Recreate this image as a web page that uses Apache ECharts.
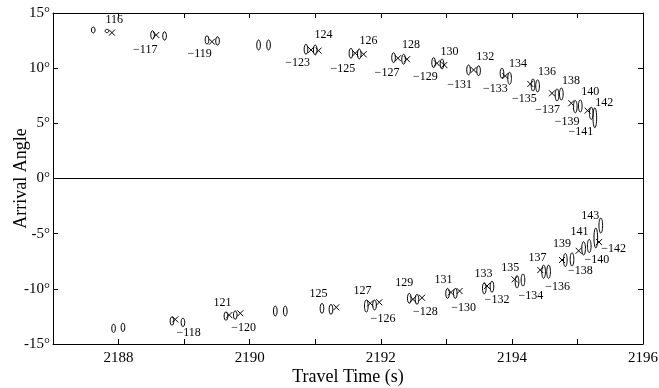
<!DOCTYPE html>
<html>
<head>
<meta charset="utf-8">
<script src="https://cdn.jsdelivr.net/npm/echarts@6/dist/echarts.min.js"></script>
<style>
    html, body { margin: 0; padding: 0; background: #fff; }
    #chart { width: 659px; height: 388px; }
</style>
</head>
<body>
<div id="chart"></div>
<script>
// travel time (s), arrival angle (deg), half height of the ellipse (deg)
var ellipsesTop = [
    [2187.614, 13.46, 0.27], [2187.823, 13.37, 0.15],
    [2188.519, 13.01, 0.38], [2188.702, 12.92, 0.38],
    [2189.349, 12.56, 0.38], [2189.510, 12.47, 0.38],
    [2190.136, 12.10, 0.45], [2190.288, 12.10, 0.45],
    [2190.859, 11.71, 0.45], [2191.000, 11.65, 0.45],
    [2191.545, 11.35, 0.45], [2191.672, 11.29, 0.45],
    [2192.195, 10.95, 0.45], [2192.348, 10.81, 0.45],
    [2192.806, 10.50, 0.45], [2192.934, 10.38, 0.45],
    [2193.339, 9.84, 0.45], [2193.492, 9.77, 0.45],
    [2193.849, 9.54, 0.45], [2193.965, 9.08, 0.55],
    [2194.322, 8.48, 0.55], [2194.392, 8.39, 0.55],
    [2194.688, 7.57, 0.55], [2194.754, 7.66, 0.55],
    [2194.967, 6.51, 0.55], [2195.043, 6.57, 0.55],
    [2195.211, 5.91, 0.55], [2195.265, 5.50, 0.9]
];

var ellipsesBottom = [
    [2187.924, -13.58, 0.38], [2188.067, -13.49, 0.38],
    [2188.815, -12.92, 0.38], [2188.982, -13.04, 0.38],
    [2189.638, -12.47, 0.38], [2189.780, -12.38, 0.38],
    [2190.391, -12.01, 0.45], [2190.543, -12.01, 0.45],
    [2191.103, -11.77, 0.45], [2191.240, -11.86, 0.45],
    [2191.779, -11.56, 0.55], [2191.905, -11.47, 0.45],
    [2192.435, -10.86, 0.45], [2192.552, -10.95, 0.45],
    [2193.019, -10.41, 0.45], [2193.137, -10.41, 0.45],
    [2193.579, -9.95, 0.5], [2193.696, -9.81, 0.5],
    [2194.078, -9.36, 0.55], [2194.169, -9.20, 0.55],
    [2194.484, -8.45, 0.6], [2194.560, -8.45, 0.6],
    [2194.815, -7.39, 0.6], [2194.917, -7.33, 0.6],
    [2195.094, -6.33, 0.6], [2195.180, -6.12, 0.6],
    [2195.280, -5.39, 0.9], [2195.356, -4.26, 0.68]
];

var crossesTop = [
    [2187.899, 13.22], [2188.575, 13.01], [2189.425, 12.40],
    [2190.935, 11.65], [2191.051, 11.59], [2191.611, 11.35],
    [2191.738, 11.26], [2192.262, 10.90], [2192.400, 10.81],
    [2192.857, 10.44], [2192.969, 10.29], [2193.416, 9.84],
    [2193.899, 9.29], [2194.281, 8.57], [2194.612, 7.72],
    [2194.906, 6.82], [2195.155, 6.15]
];

var crossesBottom = [
    [2188.865, -12.77], [2189.689, -12.38], [2189.857, -12.22],
    [2191.321, -11.68], [2191.840, -11.31], [2191.977, -11.22],
    [2192.491, -10.95], [2192.629, -10.81], [2193.071, -10.32],
    [2193.202, -10.20], [2193.620, -9.75], [2194.041, -9.14],
    [2194.433, -8.30], [2194.764, -7.39], [2195.018, -6.55],
    [2195.330, -5.76]
];

var labelsTop = [
    [2187.934, 14.37, '116'], [2188.407, 11.65, '−117'], [2189.236, 11.29, '−119'],
    [2191.127, 13.01, '124'], [2190.731, 10.44, '−123'],
    [2191.814, 12.49, '126'], [2191.423, 9.90, '−125'],
    [2192.461, 12.10, '128'], [2192.095, 9.54, '−127'],
    [2193.050, 11.50, '130'], [2192.679, 9.17, '−129'],
    [2193.594, 11.02, '132'], [2193.202, 8.48, '−131'],
    [2194.093, 10.38, '134'], [2193.747, 8.09, '−133'],
    [2194.536, 9.68, '136'], [2194.189, 7.18, '−135'],
    [2194.902, 8.87, '138'], [2194.545, 6.21, '−137'],
    [2195.196, 7.81, '140'], [2194.841, 5.15, '−139'],
    [2195.410, 6.82, '142'], [2195.054, 4.24, '−141']
];

var labelsBottom = [
    [2189.068, -14.03, '−118'], [2189.587, -11.26, '121'], [2189.907, -13.58, '−120'],
    [2191.051, -10.47, '125'],
    [2191.722, -10.20, '127'], [2192.034, -12.74, '−126'],
    [2192.358, -9.50, '129'], [2192.679, -12.08, '−128'],
    [2192.958, -9.14, '131'], [2193.263, -11.68, '−130'],
    [2193.568, -8.66, '133'], [2193.773, -11.02, '−132'],
    [2193.976, -8.09, '135'], [2194.291, -10.63, '−134'],
    [2194.392, -7.23, '137'], [2194.697, -9.81, '−136'],
    [2194.764, -5.94, '139'], [2195.043, -8.39, '−138'],
    [2195.033, -4.82, '141'], [2195.298, -7.39, '−140'],
    [2195.196, -3.40, '143'], [2195.552, -6.42, '−142']
];

var timeTicks = [2188, 2190, 2192, 2194, 2196];
var angleTicks = [-15, -10, -5, 0, 5, 10, 15];

var serif = '"Liberation Serif", "DejaVu Serif", serif';
var ellipseHalfWidth = 0.028;
var allLabels = labelsTop.concat(labelsBottom);

var drawEllipse = function (params, api) {
    var c = api.coord([api.value(0), api.value(1)]);
    var s = api.size([ellipseHalfWidth, api.value(2)]);
    return {
        type: 'ellipse',
        shape: { cx: c[0], cy: c[1], rx: s[0], ry: s[1] },
        style: { fill: 'none', stroke: '#000', lineWidth: 1 }
    };
};

var drawLabel = function (params, api) {
    var c = api.coord([api.value(0), api.value(1)]);
    return {
        type: 'text',
        x: c[0],
        y: c[1],
        style: {
            text: allLabels[params.dataIndex][2],
            fill: '#000',
            font: '12px ' + serif,
            align: 'center',
            verticalAlign: 'middle'
        }
    };
};

var myChart = echarts.init(document.getElementById('chart'));

var xBase = {
    type: 'value',
    min: 2187,
    max: 2196,
    interval: 1,
    axisLine: { show: true, onZero: false, lineStyle: { color: '#000', width: 1 } },
    axisTick: { show: true, inside: true, length: 5, lineStyle: { color: '#000' } },
    splitLine: { show: false }
};

var yBase = {
    type: 'value',
    min: -15,
    max: 15,
    interval: 5,
    axisLine: { show: true, onZero: false, lineStyle: { color: '#000', width: 1 } },
    axisTick: { show: true, inside: true, length: 5, lineStyle: { color: '#000' } },
    splitLine: { show: false }
};

var option = {
    animation: false,
    backgroundColor: '#fff',
    grid: { left: 53, right: 16, top: 13, bottom: 44, containLabel: false, outerBoundsMode: 'none' },
    xAxis: [
        echarts.util.merge({
            position: 'bottom',
            name: 'Travel Time (s)',
            nameLocation: 'middle',
            nameGap: 24,
            nameMoveOverlap: false,
            nameTextStyle: { color: '#000', fontFamily: serif, fontSize: 18 },
            axisLabel: {
                color: '#000', fontFamily: serif, fontSize: 15, margin: 7,
                formatter: function (v) { return timeTicks.indexOf(v) >= 0 ? String(v) : ''; }
            }
        }, xBase, true),
        echarts.util.merge({ position: 'top', axisLabel: { show: false } }, xBase, true)
    ],
    yAxis: [
        echarts.util.merge({
            position: 'left',
            name: 'Arrival Angle',
            nameLocation: 'middle',
            nameGap: 23,
            nameMoveOverlap: false,
            nameTextStyle: { color: '#000', fontFamily: serif, fontSize: 18 },
            axisLabel: {
                color: '#000', fontFamily: serif, fontSize: 15, margin: 3,
                formatter: function (v) { return angleTicks.indexOf(v) >= 0 ? v + '°' : ''; }
            }
        }, yBase, true),
        echarts.util.merge({ position: 'right', axisLabel: { show: false } }, yBase, true)
    ],
    series: [
        {
            type: 'custom',
            renderItem: drawEllipse,
            data: ellipsesTop.concat(ellipsesBottom),
            silent: true,
            clip: false
        },
        {
            type: 'scatter',
            symbol: 'path://M0,0L10,10M10,0L0,10',
            symbolSize: 6,
            itemStyle: { color: 'none', borderColor: '#000', borderWidth: 1, opacity: 1 },
            data: crossesTop.concat(crossesBottom),
            silent: true,
            markLine: {
                silent: true,
                symbol: ['none', 'none'],
                label: { show: false },
                lineStyle: { color: '#000', type: 'solid', width: 1 },
                data: [{ yAxis: 0 }]
            }
        },
        {
            type: 'custom',
            renderItem: drawLabel,
            data: allLabels.map(function (d) { return [d[0], d[1]]; }),
            silent: true,
            clip: false
        }
    ]
};

myChart.setOption(option);
</script>
</body>
</html>
